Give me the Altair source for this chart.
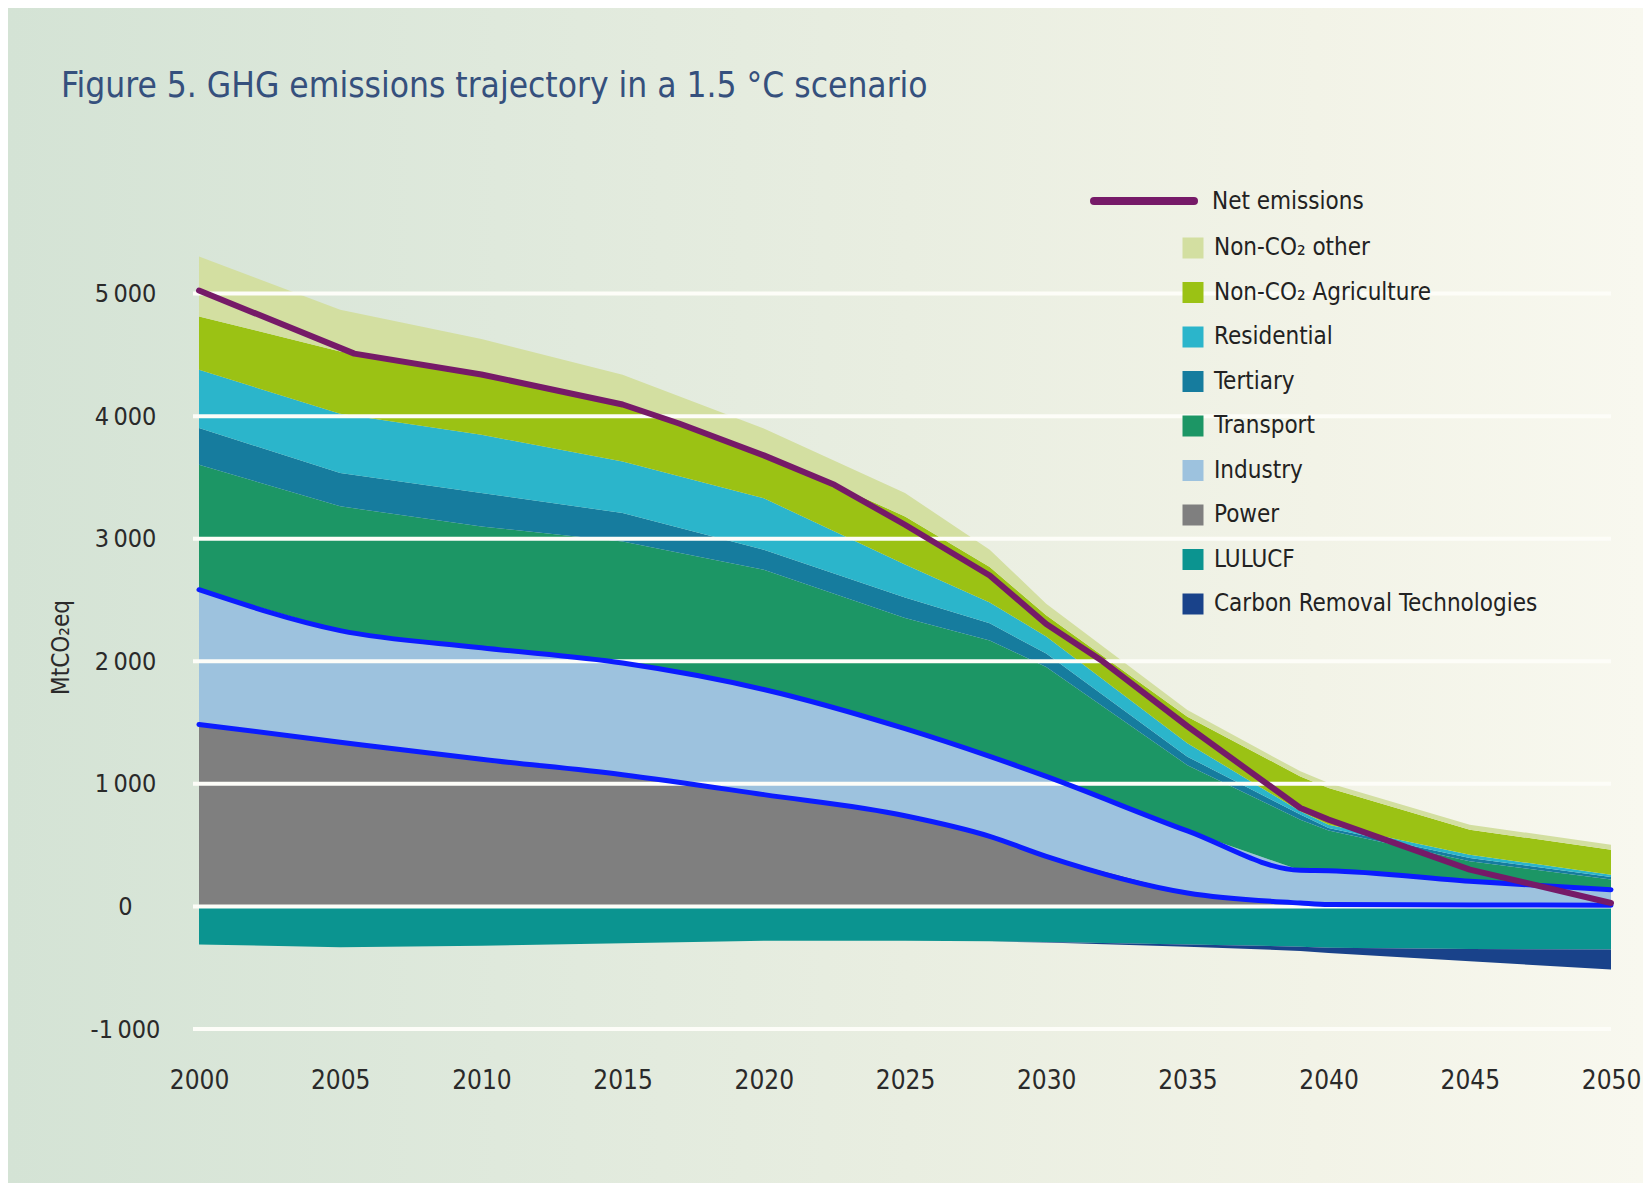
import altair as alt
import pandas as pd

FONT = "DejaVu Sans Condensed, Liberation Sans Narrow, DejaVu Sans, sans-serif"

# ---- data ----
years = [2000, 2005, 2010, 2015, 2020, 2025, 2028, 2030, 2035, 2039, 2040, 2045, 2050]
power = [1485, 1340, 1200, 1075, 912, 740, 572, 409, 110, 28, 15, 12, 10]
industry = [1099, 910, 910, 911, 858, 710, 652, 652, 506, 267, 277, 193, 127]
transport = [1020, 1014, 990, 992, 977, 903, 946, 892, 536, 413, 328, 163, 82]
tertiary = [299, 272, 273, 232, 163, 167, 140, 110, 70, 41, 20, 27, 21]
residential = [475, 484, 475, 420, 420, 270, 170, 140, 110, 27, 27, 27, 19]
agriculture = [435, 508, 476, 449, 370, 392, 290, 172, 216, 285, 299, 204, 204]
other = [490, 340, 306, 259, 200, 191, 140, 95, 54, 41, 41, 41, 41]
lulucf = [-310, -333, -320, -300, -280, -280, -285, -290, -310, -328, -338, -347, -352]
removal = [0, 0, 0, 0, 0, 0, 0, -5, -18, -35, -42, -100, -163]

net_years = [2000, 2005.5, 2010, 2015, 2017, 2020, 2022.5, 2025, 2028, 2030, 2032, 2035, 2039, 2040, 2045, 2050]
net_values = [5025, 4510, 4340, 4095, 3940, 3680, 3440, 3114, 2700, 2304, 2000, 1470, 803, 708, 300, 28]
net_label = "Net emissions"
net_color = "#761a68"

legend_order = ["Non-CO₂ other", "Non-CO₂ Agriculture", "Residential", "Tertiary",
                "Transport", "Industry", "Power", "LULUCF", "Carbon Removal Technologies"]
colors = ["#d3dfa1", "#9bc214", "#2bb5cb", "#167c9e", "#1c9665", "#9dc2de",
          "#7f7f7f", "#0b9490", "#19428a"]

grid_values = [-1000, 0, 1000, 2000, 3000, 4000, 5000]
x_ticks = [2000, 2005, 2010, 2015, 2020, 2025, 2030, 2035, 2040, 2045, 2050]
title_text = "Figure 5. GHG emissions trajectory in a 1.5 °C scenario"

# ---- stacked table built from the arrays ----
rows = []
base = [0] * len(years)
for name, vals in [("Power", power), ("Industry", industry), ("Transport", transport),
                   ("Tertiary", tertiary), ("Residential", residential),
                   ("Non-CO₂ Agriculture", agriculture), ("Non-CO₂ other", other)]:
    for i, yr in enumerate(years):
        rows.append({"year": yr, "series": name, "lo": base[i], "hi": base[i] + vals[i]})
    base = [b + v for b, v in zip(base, vals)]
nbase = [0] * len(years)
for name, vals in [("LULUCF", lulucf), ("Carbon Removal Technologies", removal)]:
    for i, yr in enumerate(years):
        rows.append({"year": yr, "series": name, "lo": nbase[i] + vals[i], "hi": nbase[i]})
    nbase = [b + v for b, v in zip(nbase, vals)]
stack_df = pd.DataFrame(rows)

blue_rows = []
for i, yr in enumerate(years):
    blue_rows.append({"year": yr, "edge": "power", "hi": power[i]})
    blue_rows.append({"year": yr, "edge": "industry", "hi": power[i] + industry[i]})
blue_df = pd.DataFrame(blue_rows)

net_df = pd.DataFrame({"year": net_years, "hi": net_values})
grid_df = pd.DataFrame({"hi": grid_values})

W, H = 1412, 858
PAD = {"left": 191, "top": 163, "right": 32, "bottom": 154}

gradient = alt.LinearGradient(
    gradient="linear", x1=0, x2=1, y1=0, y2=0,
    stops=[alt.GradientStop(offset=0, color="#d4e3d5"),
           alt.GradientStop(offset=0.3, color="#dfe9dc"),
           alt.GradientStop(offset=0.55, color="#e9eee1"),
           alt.GradientStop(offset=0.8, color="#f2f3e7"),
           alt.GradientStop(offset=1, color="#f8f8ef")])

bg = alt.Chart(alt.Data(values=[{"a": 1}])).mark_rect(fill=gradient).encode(
    x=alt.value(-PAD["left"]), x2=alt.value(W + PAD["right"]),
    y=alt.value(-PAD["top"]), y2=alt.value(H + PAD["bottom"]))

xscale = alt.Scale(domain=[2000, 2050], nice=False, zero=False)
yscale = alt.Scale(domain=[-1000, 6000], nice=False)

areas = alt.Chart(stack_df).mark_area(interpolate="linear").encode(
    x=alt.X("year:Q", scale=xscale,
            axis=alt.Axis(values=x_ticks, format="d", title=None, grid=False, domain=False,
                          ticks=False, tickSize=0, labelPadding=38, labelFontSize=26,
                          labelFont=FONT, labelColor="#2a2a2a", labelFlush=False, zindex=1)),
    y=alt.Y("lo:Q", scale=yscale,
            axis=alt.Axis(values=grid_values, grid=False, domain=False, ticks=False, tickSize=0,
                          labelExpr="(datum.value < 0 ? '-' : '') + replace(format(abs(datum.value), ','), ',', '\u2009')",
                          labelAlign="center", labelBaseline="middle", labelPadding=74,
                          labelFontSize=25, labelFont=FONT, labelColor="#2a2a2a",
                          title="MtCO₂eq", titleX=-138, titleY=476, titleAngle=270,
                          titleAlign="center", titleBaseline="middle", titleFontSize=24,
                          titleFont=FONT, titleFontWeight="normal", titleColor="#2a2a2a",
                          zindex=1)),
    y2="hi:Q",
    color=alt.Color("series:N", scale=alt.Scale(domain=legend_order, range=colors),
                    legend=alt.Legend(title=None, orient="none", legendX=982, legendY=65,
                                      symbolType="square", symbolSize=441, symbolStrokeWidth=0,
                                      symbolOpacity=1, labelFontSize=24, labelFont=FONT,
                                      labelColor="#222222", labelOffset=9, rowPadding=20.5,
                                      padding=0, labelLimit=600)),
)

grid = alt.Chart(grid_df).mark_rule(color="#fdfdf8", strokeWidth=4).encode(
    y="hi:Q", x=alt.value(-6), x2=alt.value(W))

blue = alt.Chart(blue_df).mark_line(color="#0b1cff", strokeWidth=5, interpolate="monotone",
                                    strokeCap="round").encode(
    x="year:Q", y="hi:Q", detail="edge:N")

net = alt.Chart(net_df).mark_line(color=net_color, strokeWidth=6, strokeCap="round",
                                  strokeJoin="round").encode(x="year:Q", y="hi:Q")

# legend entry for the net-emissions line
legend_data = alt.Data(values=[{"label": net_label}])
net_key = alt.Chart(legend_data).mark_rule(color=net_color, strokeWidth=8, strokeCap="round").encode(
    x=alt.value(895), x2=alt.value(995), y=alt.value(30))
net_key_text = alt.Chart(legend_data).mark_text(
    align="left", baseline="middle", fontSize=24, font=FONT, color="#222222").encode(
    x=alt.value(1013), y=alt.value(31), text="label:N")

title = alt.Chart(alt.Data(values=[{"t": title_text}])).mark_text(
    align="left", baseline="middle", fontSize=35, font=FONT, color="#35507d").encode(
    x=alt.value(-138), y=alt.value(-85), text="t:N")

chart = alt.layer(bg, areas, grid, blue, net, net_key, net_key_text, title).properties(
    width=W, height=H, padding=PAD,
    autosize=alt.AutoSizeParams(type="none"),
).configure_view(stroke=None)

chart.save("out.html", embed_options={"renderer": "svg", "actions": False})
